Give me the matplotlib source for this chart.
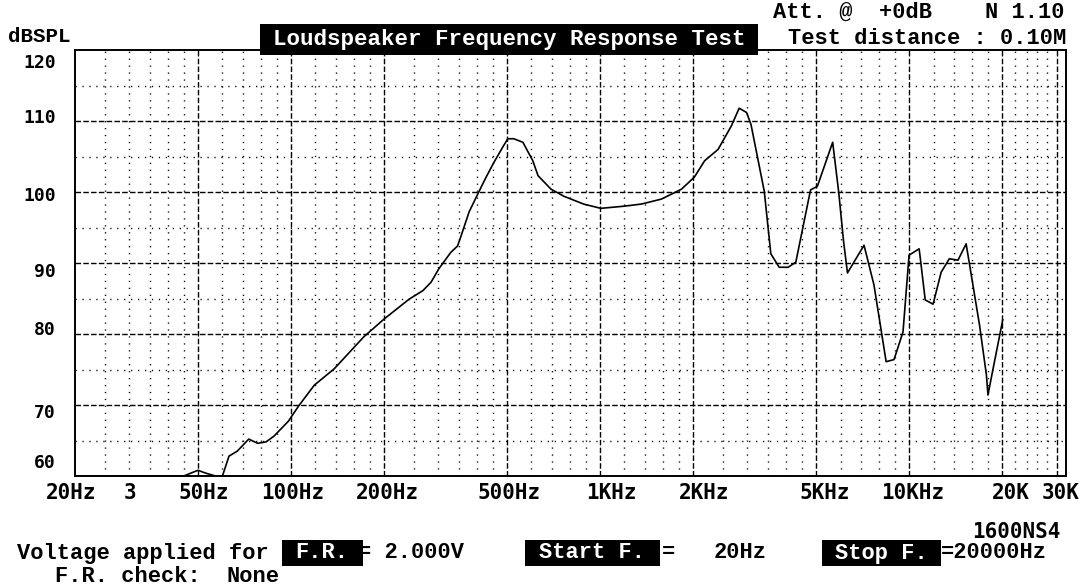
import matplotlib
matplotlib.use("Agg")
import matplotlib.pyplot as plt
from matplotlib import transforms
from matplotlib.patches import Rectangle

# ---------------- data ----------------
freq_hz = [20, 45, 48, 50, 53, 57, 60, 63, 67, 73, 78, 83, 88, 98, 106, 119, 138,
           172, 200, 241, 267, 284, 301, 329, 346, 355, 377, 402, 428, 454, 484,
           503, 526, 563, 606, 630, 694, 764, 885, 1006, 1196, 1360, 1580, 1835,
           2020, 2180, 2410, 2660, 2820, 2980, 3080, 3400, 3570, 3800, 4060, 4300,
           4800, 5050, 5660, 5920, 6140, 6320, 7150, 7700, 8430, 8940, 9560, 10000,
           10780, 10940, 11280, 11960, 12700, 13500, 14400, 15300, 16900, 17800,
           18000, 18700, 20100]
spl_db = [60.0, 60.0, 60.5, 60.8, 60.4, 60.0, 60.0, 62.8, 63.5, 65.2, 64.6, 64.8,
          65.6, 67.7, 69.9, 72.8, 75.1, 79.6, 82.1, 84.9, 86.1, 87.3, 89.2, 91.5,
          92.4, 93.8, 97.2, 99.7, 102.1, 104.2, 106.3, 107.5, 107.5, 107.0, 104.4,
          102.3, 100.4, 99.4, 98.3, 97.7, 98.0, 98.3, 99.0, 100.4, 102.1, 104.4,
          106.0, 109.3, 111.8, 111.2, 109.5, 100.1, 91.3, 89.4, 89.4, 90.1, 100.3,
          100.8, 107.0, 100.0, 93.0, 88.6, 92.5, 86.9, 76.1, 76.4, 80.3, 91.1,
          92.0, 89.7, 84.8, 84.2, 88.7, 90.6, 90.4, 92.7, 81.3, 74.2, 71.4, 75.1,
          82.0]

grid_major_hz = [50, 100, 200, 500, 1000, 2000, 5000, 10000, 20000, 30000]
grid_minor_hz = [25, 30, 35, 40, 45, 60, 70, 80, 90, 120, 140, 160, 180,
                 250, 300, 350, 400, 450, 600, 700, 800, 900, 1200, 1400, 1600, 1800,
                 2500, 3000, 3500, 4000, 4500, 6000, 7000, 8000, 9000,
                 12000, 14000, 16000, 18000, 22000, 24000, 26000, 28000]
grid_major_db = [70, 80, 90, 100, 110]
grid_minor_db = [65, 75, 85, 95, 105, 115]

x_tick_hz = [20, 30, 50, 100, 200, 500, 1000, 2000, 5000, 10000, 20000, 30000]
x_tick_labels = ["20Hz", "3", "50Hz", "100Hz", "200Hz", "500Hz", "1KHz", "2KHz",
                 "5KHz", "10KHz", "20K", "30K"]
y_tick_db = [120, 110, 100, 90, 80, 70, 60]
y_tick_labels = ["120", "110", "100", "90", "80", "70", "60"]

# label nudges in pixels (layout only)
x_label_dx = [-4, 1, 6, 2, 3, 2, 11, 11, 9, 4, 9, 4]
y_label_dy = [-13, 3, -4, -9, 4, -8, 13]

W, H = 1083, 588
fig = plt.figure(figsize=(W / 100, H / 100), dpi=100)

def fx(x):
    return x / W

def fy(y):
    return 1 - y / H

L, R, T, B = 75, 1066, 50, 476
ax = fig.add_axes([fx(L), fy(B), fx(R) - fx(L), fy(T) - fy(B)])
ax.set_xscale("log")
ax.set_xlim(20, 32200)
ax.set_ylim(60, 120)
ax.set_xticks([])
ax.set_yticks([])
ax.minorticks_off()
for s in ax.spines.values():
    s.set_linewidth(1.4)
    s.set_color("black")

dash = (0, (4, 1.6))
dot = (0, (0.9, 4.1))
for f in grid_major_hz:
    ax.axvline(f, color="black", lw=1.0, ls=dash, zorder=1)
for f in grid_minor_hz:
    ax.axvline(f, color="black", lw=1.0, ls=dot, zorder=1)
for v in grid_major_db:
    ax.axhline(v, color="black", lw=1.0, ls=dash, zorder=1)
for v in grid_minor_db:
    ax.axhline(v, color="black", lw=1.0, ls=dot, zorder=1)

ax.plot(freq_hz, spl_db, color="black", lw=1.2, zorder=3)

num_font = "DejaVu Sans Mono"
txt_font = "Liberation Mono"

# x labels
for f, lab, dx in zip(x_tick_hz, x_tick_labels, x_label_dx):
    tr = transforms.blended_transform_factory(ax.transData, fig.transFigure)
    tr = transforms.offset_copy(tr, fig=fig, x=dx, y=0, units="dots")
    fig.text(f, fy(493), lab, transform=tr, ha="center", va="center",
             fontsize=15, family=num_font, weight="bold")

# y labels
for v, lab, dy in zip(y_tick_db, y_tick_labels, y_label_dy):
    tr = transforms.blended_transform_factory(fig.transFigure, ax.transData)
    tr = transforms.offset_copy(tr, fig=fig, x=0, y=dy, units="dots")
    fig.text(fx(56), v, lab, transform=tr, ha="right", va="center",
             fontsize=13, family=num_font, weight="bold")

def box(x0, y0, x1, y1):
    fig.patches.append(Rectangle((fx(x0), fy(y1)), fx(x1) - fx(x0), fy(y0) - fy(y1),
                                 transform=fig.transFigure, facecolor="black",
                                 edgecolor="none", zorder=5))

def txt(x, y, s, size=15.8, color="black", ha="left", family=txt_font):
    fig.text(fx(x), fy(y), s, ha=ha, va="center", fontsize=size, color=color,
             family=family, weight="bold", zorder=6)

txt(8, 36, "dBSPL", size=15)
box(260, 24, 758, 55)
txt(509, 39, "Loudspeaker Frequency Response Test", size=16.2, color="white", ha="center")
txt(773, 12, "Att. @  +0dB    N 1.10")
txt(788, 39, "Test distance : 0.10M")

txt(972, 532, "1600NS4", size=15, family=num_font)
txt(17, 553, "Voltage applied for")
box(282, 540, 363, 566)
txt(322, 553, "F.R.", color="white", ha="center")
txt(358, 553, "= 2.000V")
box(525, 540, 660, 566)
txt(592, 553, "Start F.", color="white", ha="center")
txt(662, 553, "=")
txt(714, 553, "20Hz")
box(822, 540, 941, 566)
txt(881, 553, "Stop F.", color="white", ha="center")
txt(941, 553, "=20000Hz")
txt(55, 577, "F.R. check:")
txt(227, 577, "None")

fig.savefig("out.png", dpi=100, facecolor="white")
